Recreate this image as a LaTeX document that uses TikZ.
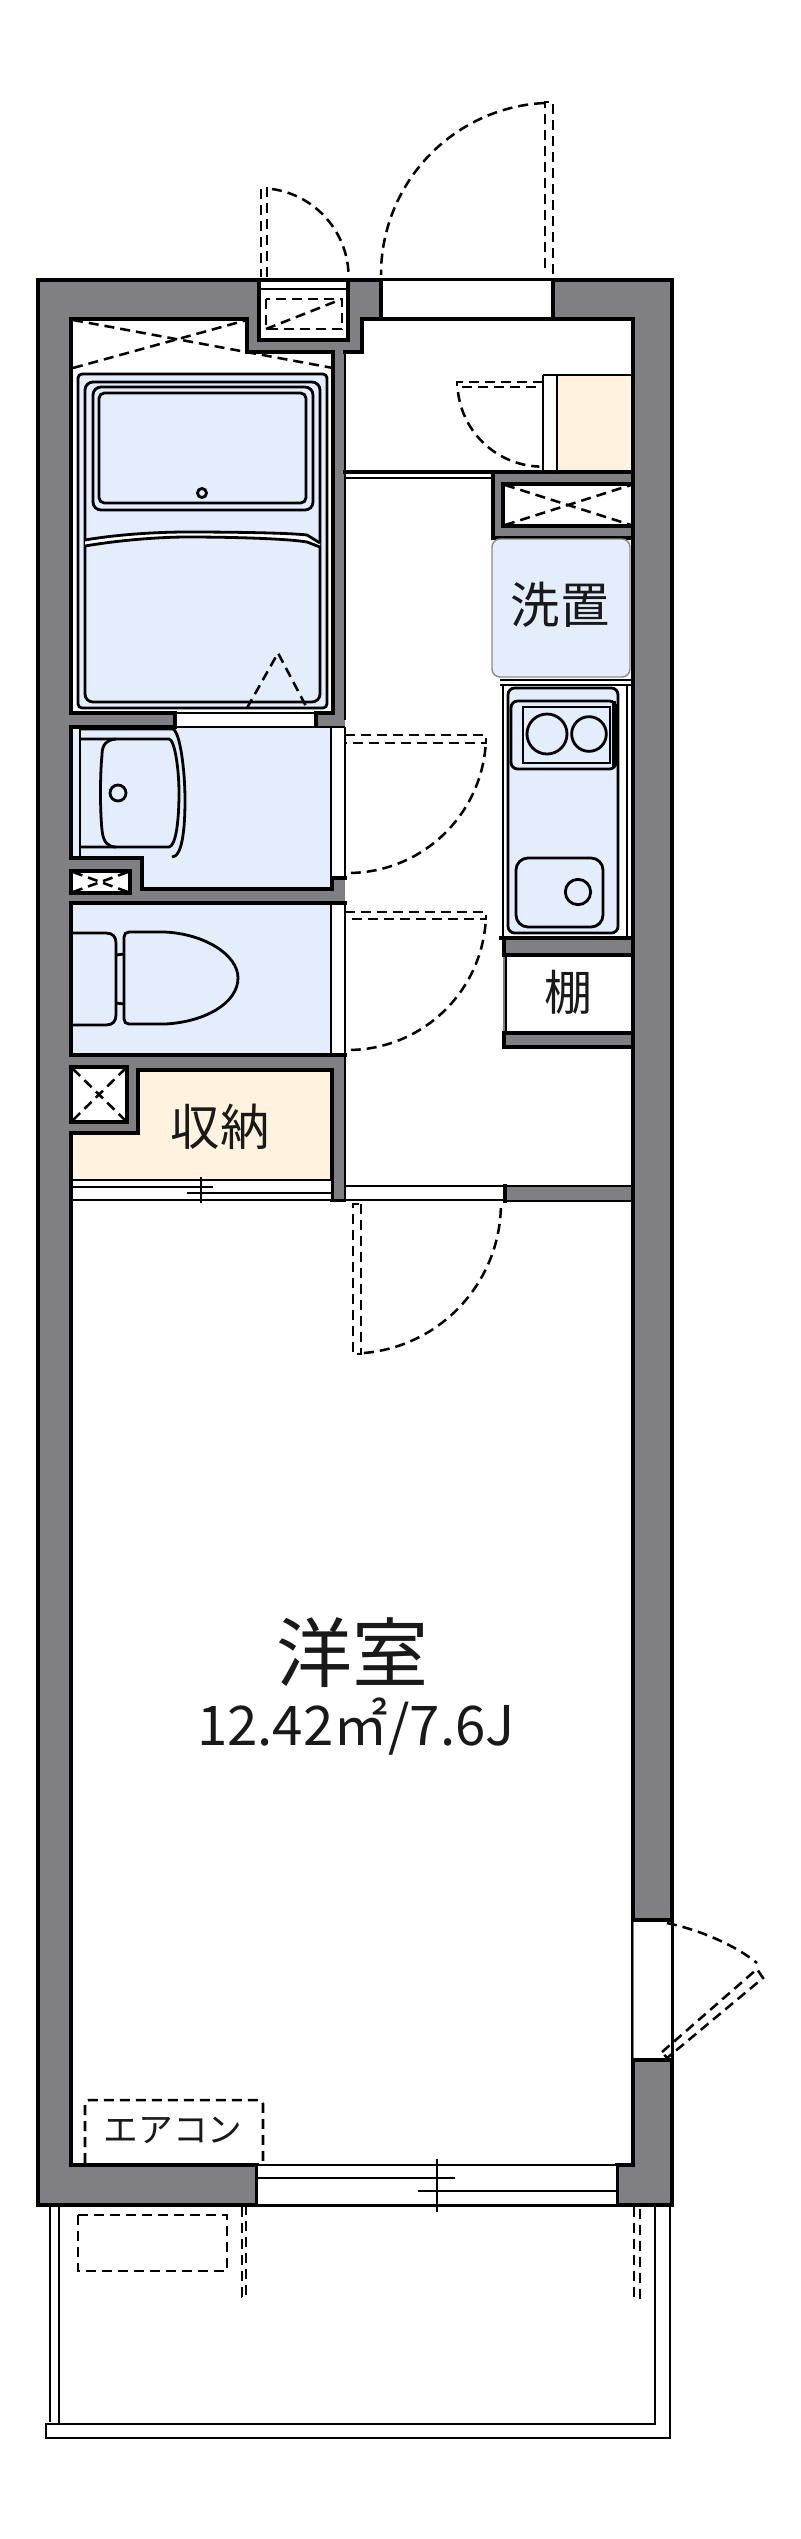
\documentclass[tikz,border=0pt]{standalone}
\usepackage{fontspec}
\newfontfamily\jpf{Noto Sans CJK JP}
\definecolor{wallc}{HTML}{808084}
\definecolor{bluec}{HTML}{E3EDFB}
\definecolor{creamc}{HTML}{FFF3DF}
\tikzset{
  tk/.style={line width=3pt,black,line cap=rect},
  md/.style={line width=2.1pt,black},
  tn/.style={line width=1.5pt,black},
  hair/.style={line width=1.1pt,black},
  dsh/.style={line width=1.9pt,black,dash pattern=on 7.5pt off 4.5pt},
  lab/.style={inner sep=0pt,text=black!90}
}
\newcommand{\jp}[1]{\fontsize{#1}{#1}\jpf\selectfont}
\begin{document}
\begin{tikzpicture}[x=0.75pt,y=-0.75pt]
\useasboundingbox[fill=white] (0,0) rectangle (800,2539);
% wall mass
\fill[wallc] (38,280) rectangle (672,2205);
\draw[line width=3.6pt] (38,280) rectangle (672,2205);
% main room and hall
\fill[white] (71,1200) rectangle (633,2165);
\fill[white] (362,319) -- (633,319) -- (633,1200) -- (345,1200) -- (345,352) -- (362,352) -- cycle;
% PS top
\fill[white] (259,280) rectangle (348,340);
\draw[tk] (259,280) -- (259,340) -- (348,340) -- (348,280);
\draw[hair] (259,289) -- (348,289);
\draw[dsh] (266,299) rectangle (342,329);
\draw[dsh] (266,329) -- (342,299);
% door small top
\draw[dsh] (267,277) -- (267,188) -- (261,188) -- (261,277);
\draw[dsh] (272,189) arc[start angle=82,end angle=0,radius=66.75pt];
% entrance
\fill[white] (382,281) rectangle (553,319);
\draw[tk] (381,280) -- (381,319);
\draw[tk] (553,280) -- (553,319);
\draw[tk] (38,280) -- (350,280);
\draw[tk] (553,280) -- (672,280);
\draw[hair] (382,280) -- (553,280);
\draw[dsh] (553,274) -- (553,102) -- (545,102) -- (545,274);
\draw[dsh] (544,103) arc[start angle=93,end angle=180,radius=129pt];
% hall top outline
\draw[tk] (345,352) -- (362,352) -- (362,319) -- (633,319);
\draw[md] (345,352) -- (345,720);
% bath room
\fill[white] (71,319) -- (247,319) -- (247,352) -- (333,352) -- (333,713) -- (71,713) -- cycle;
\draw[tk] (71,713) -- (71,319) -- (247,319) -- (247,352) -- (333,352) -- (333,713) -- (316,713);
\draw[tk] (71,713) -- (175,713);
\draw[dsh] (73,368) -- (247,320);
\draw[dsh] (73,320) -- (333,368);
\draw[md,fill=bluec,rounded corners=3pt] (78,374) rectangle (327,708);
\draw[md,fill=bluec,rounded corners=6pt] (85,382) rectangle (320,702);
\draw[md,rounded corners=6pt] (93,387) rectangle (313,510);
\draw[md,rounded corners=4pt] (99,393) rectangle (306,503);
\draw[md] (202,493) circle[radius=3.4pt];
\fill[white] (85,540) .. controls (120,534) and (160,532) .. (187,532) .. controls (240,532) and (290,533) .. (307,535) -- (320,543) -- (320,547) -- (307,542) .. controls (290,539) and (240,537) .. (187,537) .. controls (160,537) and (120,540) .. (85,546) -- cycle;
\draw[md] (85,540) .. controls (120,534) and (160,532) .. (187,532) .. controls (240,532) and (290,533) .. (307,535) -- (320,543);
\draw[md] (85,546) .. controls (120,540) and (160,537) .. (187,537) .. controls (240,537) and (290,539) .. (307,542) -- (320,547);
\draw[dsh] (247,708) -- (278,653) -- (307,708);
% bath door gap
\fill[white] (175,713) rectangle (316,726);
\draw[tk] (175,713) -- (175,726);
\draw[tk] (316,713) -- (316,726);
\draw[md] (175,713) -- (316,713);
% wash room
\fill[white] (330,727) rectangle (345,878);
\fill[bluec] (71,727) -- (330,727) -- (330,889) -- (142,889) -- (142,858) -- (71,858) -- cycle;
\draw[tk] (175,727) -- (71,727) -- (71,858) -- (142,858) -- (142,889) -- (332,889) -- (332,878) -- (345,878);
\draw[md] (175,727) -- (345,727);
\draw[md] (331,727) -- (331,878);
\draw[md] (80,729) -- (173,729) .. controls (180,732) and (185,770) .. (185,800) .. controls (185,830) and (182,857) .. (172,857);
\draw[md] (80,729) -- (80,857);
\draw[md] (80,739) -- (169,739) .. controls (175,740) and (179,770) .. (179,793) .. controls (179,820) and (176,846) .. (169,847) -- (80,847);
\draw[md] (116,739) .. controls (106,740) and (102,745) .. (102,755) .. controls (100,775) and (100,810) .. (102,830) .. controls (103,842) and (108,847) .. (116,847);
\draw[md] (118,793) circle[radius=6pt];
% small PS
\draw[tk,fill=white] (71,871) rectangle (130,893);
\draw[dsh] (73,872) -- (128,892);
\draw[dsh] (73,892) -- (128,872);
% toilet
\fill[white] (330,903) rectangle (345,1055);
\fill[bluec] (71,903) rectangle (330,1055);
\draw[tk] (71,1055) -- (71,903) -- (345,903);
\draw[tk] (71,1055) -- (345,1055);
\draw[md] (331,903) -- (331,1055);
\draw[md] (73,933) -- (106,933) .. controls (113,933) and (116,937) .. (116,943) -- (116,1015) .. controls (116,1021) and (113,1025) .. (106,1025) -- (73,1025);
\draw[md] (116,955) -- (124,954);
\draw[md] (116,1003) -- (124,1004);
\draw[md] (129,932) -- (165,932) .. controls (205,934) and (238,955) .. (238,978) .. controls (238,1003) and (205,1022) .. (165,1024) -- (129,1024) .. controls (126,1024) and (124,1022) .. (124,1019) -- (124,937) .. controls (124,934) and (126,932) .. (129,932) -- cycle;
% right wall of hall
\draw[md] (345,903) -- (345,1055);
\draw[md] (345,727) -- (345,878);
% storage
\fill[creamc] (71,1133) -- (138,1133) -- (138,1070) -- (332,1070) -- (332,1180) -- (71,1180) -- cycle;
\draw[tk] (71,1180) -- (71,1133) -- (138,1133) -- (138,1070) -- (332,1070) -- (332,1200);
\draw[tk,fill=white] (71,1067) rectangle (127,1122);
\draw[dsh] (73,1069) -- (125,1120);
\draw[dsh] (73,1120) -- (125,1069);
\node[lab] (shuno) at (220,1127) {\jp{37}収納};
% sliding door
\fill[white] (71,1181) rectangle (331,1200);
\draw[tn] (71,1180) -- (331,1180);
\draw[tn] (71,1187) -- (213,1187);
\draw[tn] (187,1193) -- (331,1193);
\draw[tn] (71,1200) -- (633,1200);
\draw[tn] (201,1177) -- (201,1203);
% wall stub by storage
\draw[md] (332,1201) -- (345,1201) -- (345,1056);
% hall/room door
\fill[wallc] (505,1186) rectangle (633,1200);
\fill[white] (346,1187) rectangle (505,1199);
\draw[tn] (345,1186) -- (505,1186);
\draw[md] (505,1186) -- (633,1186);
\draw[md] (505,1201) -- (633,1201);
\draw[tk] (505,1186) -- (505,1201);
\draw[dsh] (361,1204) -- (361,1354) -- (353,1354) -- (353,1204) -- (361,1204);
\draw[dsh] (364,1353) arc[start angle=275,end angle=360,radius=112.5pt];
% bath and toilet doors
\draw[dsh] (345,735) -- (486,735) -- (486,743) -- (345,743);
\draw[dsh] (485.5,747) arc[start angle=-5,end angle=-90,radius=103.5pt];
\draw[dsh] (345,912) -- (486,912) -- (486,919) -- (345,919);
\draw[dsh] (485.5,924) arc[start angle=-5,end angle=-90,radius=103.5pt];
% cream closet
\fill[creamc] (557,375) rectangle (633,472);
\draw[md] (543,375) -- (633,375);
\draw[md] (543,375) -- (543,472);
\draw[md] (557,375) -- (557,472);
\draw[dsh] (543,382) -- (457,382) -- (457,387) -- (543,387);
\draw[dsh] (458,392) arc[start angle=187,end angle=268,radius=63.75pt];
% hall lines
\draw[tk] (345,472) -- (493,472);
\draw[tn] (345,478) -- (493,478);
% PS box in hall
\fill[wallc] (493,472) rectangle (633,538);
\draw[tk] (633,472) -- (493,472) -- (493,538) -- (633,538);
\draw[tk,fill=white] (503,484) rectangle (633,526);
\draw[dsh] (505,485) -- (631,525);
\draw[dsh] (505,525) -- (631,485);
% washer
\draw[hair,draw=black!45,fill=bluec,rounded corners=6pt] (492,539) rectangle (630,677);
\node[lab] (senchi) at (560,605) {\jp{37}洗置};
% kitchen
\draw[md] (500,680) -- (631,680);
\draw[md] (500,685) -- (631,685);
\draw[md] (503,685) -- (503,938);
\draw[md] (627,685) -- (627,938);
\draw[md,fill=bluec,rounded corners=5pt] (508,688) rectangle (618,933);
\draw[md,rounded corners=5pt] (511,701) rectangle (616,769);
\draw[md] (523,707) rectangle (610,763);
\draw[tk] (614,703) -- (614,765);
\draw[md] (547,734) circle[radius=15pt];
\draw[md] (589,734) circle[radius=13pt];
\draw[md,rounded corners=9pt] (516,858) rectangle (603,927);
\draw[md] (578,892) circle[radius=9.5pt];
% shelf
\fill[wallc] (503,938) rectangle (633,1047);
\draw[tk] (501,938) -- (633,938);
\draw[tk] (504,938) -- (504,955);
\fill[white] (506,955) rectangle (633,1033);
\draw[tk] (506,955) -- (633,955);
\draw[md] (506,955) -- (506,1033);
\draw[tk] (504,1033) -- (633,1033);
\draw[tk] (504,1033) -- (504,1047) -- (633,1047);
\node[lab] (tana) at (568,992) {\jp{36}棚};
% right wall inner
\draw[tk] (633,319) -- (633,1920);
\draw[tk] (633,2060) -- (633,2165) -- (617,2165) -- (617,2205);
\draw[tk] (71,1133) -- (71,2165) -- (257,2165) -- (257,2205);
% room text
\node[lab] (yoshitsu) at (352,1653) {\jp{57}洋室};
\node[lab] (area) at (356,1727) {\jp{41}12.42㎡/7.6J};
% door on right wall
\fill[white] (634,1920) rectangle (671,2060);
\draw[tk] (633,1920) -- (672,1920);
\draw[tk] (633,2060) -- (672,2060);
\draw[md] (632,1920) -- (632,2060);
\draw[md] (672,1920) -- (672,2060);
\draw[dsh] (667,1923) .. controls (700,1930) and (735,1945) .. (757,1963);
\draw[dsh] (662,2052) -- (757,1969) -- (763,1978) -- (667,2058) -- cycle;
% air conditioner
\draw[dsh,rounded corners=3pt] (85,2163) -- (85,2100) -- (263,2100) -- (263,2163);
\node[lab] (aircon) at (173,2130) {\jp{26}エアコン};
% window
\fill[white] (258,2166) rectangle (616,2204);
\draw[tn] (257,2165) -- (617,2165);
\draw[tn] (257,2178) -- (455,2178);
\draw[tn] (418,2191) -- (617,2191);
\draw[tn] (257,2205) -- (617,2205);
\draw[tn] (437,2159) -- (437,2212);
% balcony
\draw[md] (50,2207) -- (50,2422);
\draw[md] (59,2207) -- (59,2424) -- (655,2424) -- (655,2207);
\draw[md] (670,2207) -- (670,2438) -- (46,2438) -- (46,2424) -- (59,2424);
\draw[dsh] (78,2215) rectangle (227,2271);
\draw[dsh] (242,2207) -- (242,2297) -- (246,2297) -- (246,2207);
\draw[dsh] (634,2207) -- (634,2298) -- (640,2298) -- (640,2207);
\end{tikzpicture}
\end{document}
